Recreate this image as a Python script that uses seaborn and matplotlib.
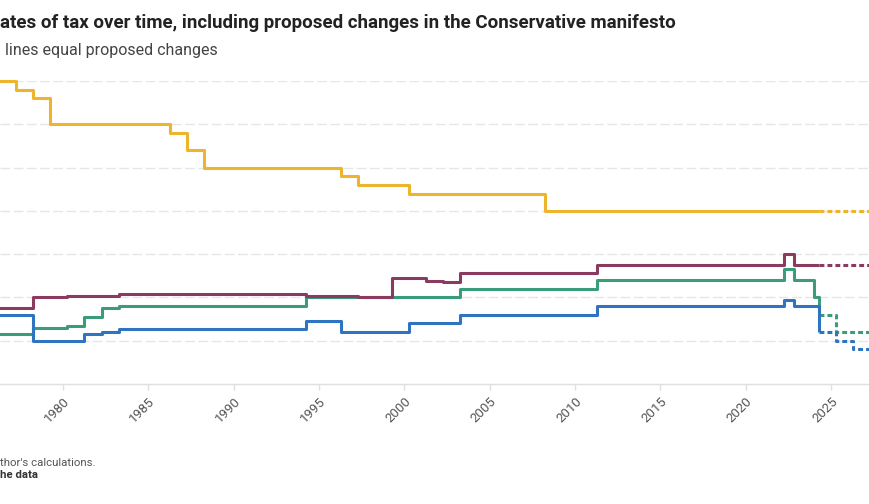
import numpy as np
import pandas as pd
import matplotlib
matplotlib.use("Agg")
import matplotlib.pyplot as plt
import seaborn as sns

# ---------------- data ----------------
series_names = ["Basic rate of income tax", "Employee NICs", "Self-employed NICs", "Employer NICs"]
series_colors = ["#ecb52b", "#3a9c78", "#2f74c0", "#8b3a60"]

basic_dates = ["1975-04-06", "1977-04-06", "1978-04-06", "1979-04-06", "1986-04-06", "1987-04-06",
               "1988-04-06", "1996-04-06", "1997-04-06", "2000-04-06", "2008-04-06", "2024-04-06"]
basic_rates = [35, 34, 33, 30, 29, 27, 25, 24, 23, 22, 20, 20]
basic_prop_dates = ["2024-04-06", "2028-04-06"]
basic_prop_rates = [20, 20]

employee_dates = ["1975-04-06", "1978-04-06", "1980-04-06", "1981-04-06", "1982-04-06", "1983-04-06",
                  "1994-04-06", "2003-04-06", "2011-04-06", "2022-04-06", "2022-11-06", "2024-01-06",
                  "2024-04-06"]
employee_rates = [5.75, 6.5, 6.75, 7.75, 8.75, 9.0, 10.0, 11.0, 12.0, 13.25, 12.0, 10.0, 8.0]
employee_prop_dates = ["2024-04-06", "2025-04-06", "2028-04-06"]
employee_prop_rates = [8.0, 6.0, 6.0]

selfemp_dates = ["1975-04-06", "1978-04-06", "1981-04-06", "1982-04-06", "1983-04-06", "1994-04-06",
                 "1996-04-06", "2000-04-06", "2003-04-06", "2011-04-06", "2022-04-06", "2022-11-06",
                 "2024-04-06"]
selfemp_rates = [8.0, 5.0, 5.75, 6.0, 6.3, 7.3, 6.0, 7.0, 8.0, 9.0, 9.73, 9.0, 6.0]
selfemp_prop_dates = ["2024-04-06", "2025-04-06", "2026-04-06", "2028-04-06"]
selfemp_prop_rates = [6.0, 5.0, 4.0, 4.0]

employer_dates = ["1975-04-06", "1978-04-06", "1980-04-06", "1983-04-06", "1991-04-06", "1994-04-06",
                  "1997-04-06", "1999-04-06", "2001-04-06", "2002-04-06", "2003-04-06", "2011-04-06",
                  "2022-04-06", "2022-11-06", "2024-04-06"]
employer_rates = [8.75, 10.0, 10.2, 10.45, 10.4, 10.2, 10.0, 12.2, 11.9, 11.8, 12.8, 13.8, 15.05, 13.8, 13.8]
employer_prop_dates = ["2024-04-06", "2028-04-06"]
employer_prop_rates = [13.8, 13.8]

x_ticks = [1980, 1985, 1990, 1995, 2000, 2005, 2010, 2015, 2020, 2025]
y_grid = [5, 10, 15, 20, 25, 30, 35]

# texts as they appear (the reference image is cropped at its left edge)
title = "ates of tax over time, including proposed changes in the Conservative manifesto"
subtitle = "lines equal proposed changes"
source = "thor's calculations."
getdata = "he data"


def to_decimal(dates):
    d = pd.to_datetime(pd.Series(dates))
    days = np.where(d.dt.is_leap_year, 366, 365)
    return (d.dt.year + (d.dt.dayofyear - 1) / days).to_numpy()


frames = []
raw = [
    (basic_dates, basic_rates, basic_prop_dates, basic_prop_rates),
    (employee_dates, employee_rates, employee_prop_dates, employee_prop_rates),
    (selfemp_dates, selfemp_rates, selfemp_prop_dates, selfemp_prop_rates),
    (employer_dates, employer_rates, employer_prop_dates, employer_prop_rates),
]
for name, (d, r, pdts, pr) in zip(series_names, raw):
    frames.append(pd.DataFrame({"year": to_decimal(d), "rate": r, "series": name, "phase": "actual"}))
    frames.append(pd.DataFrame({"year": to_decimal(pdts), "rate": pr, "series": name, "phase": "proposed"}))
df = pd.concat(frames, ignore_index=True)

# ---------------- plot ----------------
sns.set_theme(style="white")
plt.rcParams["font.family"] = ["Roboto", "DejaVu Sans"]

W, H = 869, 504
fig = plt.figure(figsize=(W / 100, H / 100), dpi=100)
ax = fig.add_axes([0, (H - 384) / H, 1, (384 - 81) / H])

sns.lineplot(
    data=df, x="year", y="rate", hue="series", style="phase",
    hue_order=series_names, palette=dict(zip(series_names, series_colors)),
    dashes={"actual": "", "proposed": (1.6, 1.0)},
    drawstyle="steps-post", linewidth=2.2, estimator=None, errorbar=None,
    legend=False, ax=ax, clip_on=False,
)

ax.set_xlim(1976.31, 2027.22)
ax.set_ylim(0, 35)
ax.set_yticks(y_grid)
ax.yaxis.grid(True, linestyle=(0, (7, 2.5)), color="#e6e6e6", linewidth=1)
ax.xaxis.grid(False)
ax.tick_params(axis="y", left=False, labelleft=False)
ax.set_xticks(x_ticks)
ax.set_xticklabels([str(t) for t in x_ticks])
ax.tick_params(axis="x", bottom=True, length=4, width=1, color="#e0e0e0",
               labelsize=9.5, labelcolor="#555555", pad=4)
plt.setp(ax.get_xticklabels(), rotation=45, ha="right", va="top", rotation_mode="anchor")
for s in ["top", "left", "right"]:
    ax.spines[s].set_visible(False)
ax.spines["bottom"].set_color("#e0e0e0")
ax.spines["bottom"].set_linewidth(1)
ax.set_xlabel("")
ax.set_ylabel("")
for line in ax.get_lines():
    line.set_solid_capstyle("butt")

fig.text(0.5 / W, 1 - 28 / H, title, va="baseline", ha="left",
         fontsize=13.5, fontweight="bold", color="#222222")
fig.text(5 / W, 1 - 55 / H, subtitle, va="baseline", ha="left",
         fontsize=11.5, color="#444444")
fig.text(0.5 / W, 1 - 466 / H, source, va="baseline", ha="left",
         fontsize=8.2, color="#555555")
fig.text(0.5 / W, 1 - 478 / H, getdata, va="baseline", ha="left",
         fontsize=8.2, fontweight="bold", color="#333333")

fig.savefig("out.png", dpi=100)
